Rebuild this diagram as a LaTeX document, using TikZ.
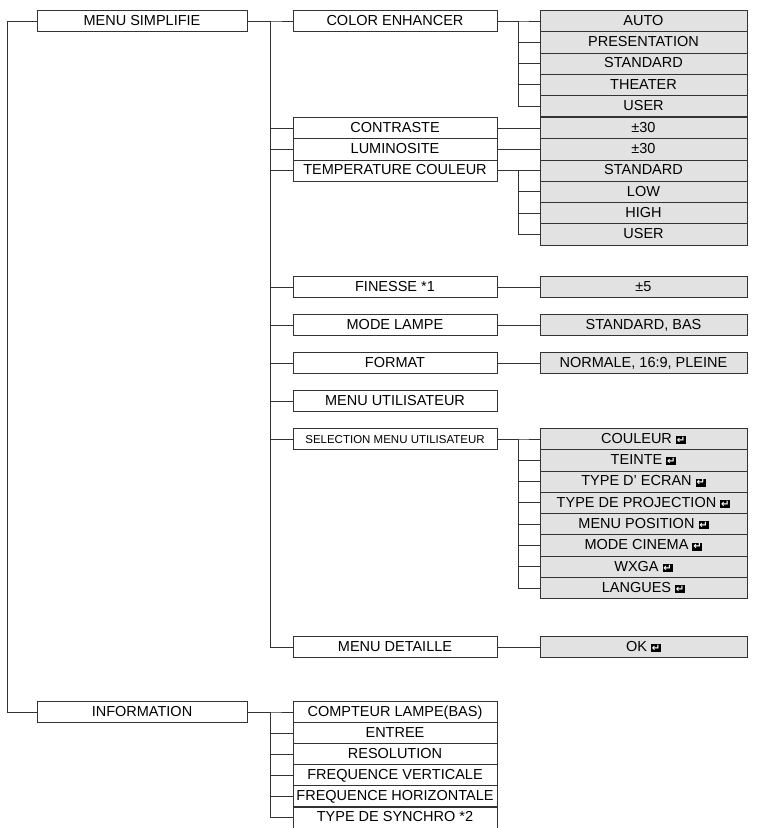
\documentclass[tikz,border=0pt]{standalone}
\usepackage{fontspec}
\setmainfont{Liberation Sans}
\newfontfamily\dejavu{DejaVu Sans}
\usetikzlibrary{positioning}
\definecolor{boxgray}{HTML}{E2E2E2}
\definecolor{linegray}{HTML}{333333}
\newcommand{\enterkey}{\ {\fboxsep=0.8pt\colorbox{black}{\color{white}\dejavu\bfseries\fontsize{10}{10}\selectfont ↵}}}
\tikzset{%
  % plain white menu box
  menubox/.style={rectangle, draw=linegray, line width=0.9pt, fill=white, minimum width=210pt, minimum height=21.3pt, inner sep=0pt, text height=10.5pt, text depth=2pt, font=\fontsize{14.5}{15}\selectfont},
  % gray value box
  valbox/.style={menubox, fill=boxgray, minimum width=207pt},
  link/.style={draw=linegray, line width=0.9pt}
}
\begin{document}
\begin{tikzpicture}[x=1pt, y=-1pt]
  \useasboundingbox (0,0) rectangle (764,828);
  % first column
  \node[menubox] (simple) at (142,21) {MENU SIMPLIFIE};
  \node[menubox] (info) at (142,712) {INFORMATION};
  \coordinate (root) at (7,21);
  \draw[link] (simple.west) -- (root) -- (7,712) -- (info.west);
  % second column
  \node[menubox, minimum width=204pt] (color) at (395,21) {COLOR ENHANCER};
  \node[menubox, minimum width=204pt] (contr) at (395,128) {CONTRASTE};
  \node[menubox, minimum width=204pt] (lum) at (395,149.3) {LUMINOSITE};
  \node[menubox, minimum width=204pt] (temp) at (395,170.6) {TEMPERATURE COULEUR};
  \node[menubox, minimum width=204pt] (fin) at (395,287) {FINESSE *1};
  \node[menubox, minimum width=204pt] (lamp) at (395,325) {MODE LAMPE};
  \node[menubox, minimum width=204pt] (form) at (395,363) {FORMAT};
  \node[menubox, minimum width=204pt] (user) at (395,401) {MENU UTILISATEUR};
  \node[menubox, minimum width=204pt, font=\fontsize{11.5}{12}\selectfont] (sel) at (395,439) {SELECTION MENU UTILISATEUR};
  \node[menubox, minimum width=204pt] (det) at (395,647) {MENU DETAILLE};
  \foreach \c in {color,contr,lum,temp,fin,lamp,form,user,sel,det}
    \draw[link] (simple.east) -- ++(23,0) |- (\c.west);
  \foreach \t [count=\i from 0] in {COMPTEUR LAMPE(BAS),ENTREE,RESOLUTION,FREQUENCE VERTICALE,FREQUENCE HORIZONTALE,TYPE DE SYNCHRO *2} {
    \node[menubox, minimum width=204pt, minimum height=21pt] (info\i) at (395,712+21.1*\i) {\t};
    \draw[link] (info.east) -- ++(23,0) |- (info\i.west);
  }
  % third column
  \foreach \t [count=\i from 0] in {AUTO,PRESENTATION,STANDARD,THEATER,USER} {
    \node[valbox] (color\i) at (643.5,21+21.3*\i) {\t};
    \draw[link] (color.east) -- ++(21,0) |- (color\i.west);
  }
  \node[valbox] (contrv) at (643.5,128) {±30};
  \node[valbox] (lumv) at (643.5,149.3) {±30};
  \draw[link] (contr.east) -- (contrv.west);
  \draw[link] (lum.east) -- (lumv.west);
  \foreach \t [count=\i from 0] in {STANDARD,LOW,HIGH,USER} {
    \node[valbox] (temp\i) at (643.5,170.6+21.3*\i) {\t};
    \draw[link] (temp.east) -- ++(21,0) |- (temp\i.west);
  }
  \node[valbox] (finv) at (643.5,287) {±5};
  \node[valbox] (lampv) at (643.5,325) {STANDARD, BAS};
  \node[valbox] (formv) at (643.5,363) {NORMALE, 16:9, PLEINE};
  \draw[link] (fin.east) -- (finv.west);
  \draw[link] (lamp.east) -- (lampv.west);
  \draw[link] (form.east) -- (formv.west);
  \foreach \t [count=\i from 0] in {COULEUR,TEINTE,TYPE D' ECRAN,TYPE DE PROJECTION,MENU POSITION,MODE CINEMA,WXGA,LANGUES} {
    \node[valbox] (sel\i) at (643.5,439+21.3*\i) {\t\enterkey};
    \draw[link] (sel.east) -- ++(21,0) |- (sel\i.west);
  }
  \node[valbox] (detv) at (643.5,647) {OK\enterkey};
  \draw[link] (det.east) -- (detv.west);
\end{tikzpicture}
\end{document}
